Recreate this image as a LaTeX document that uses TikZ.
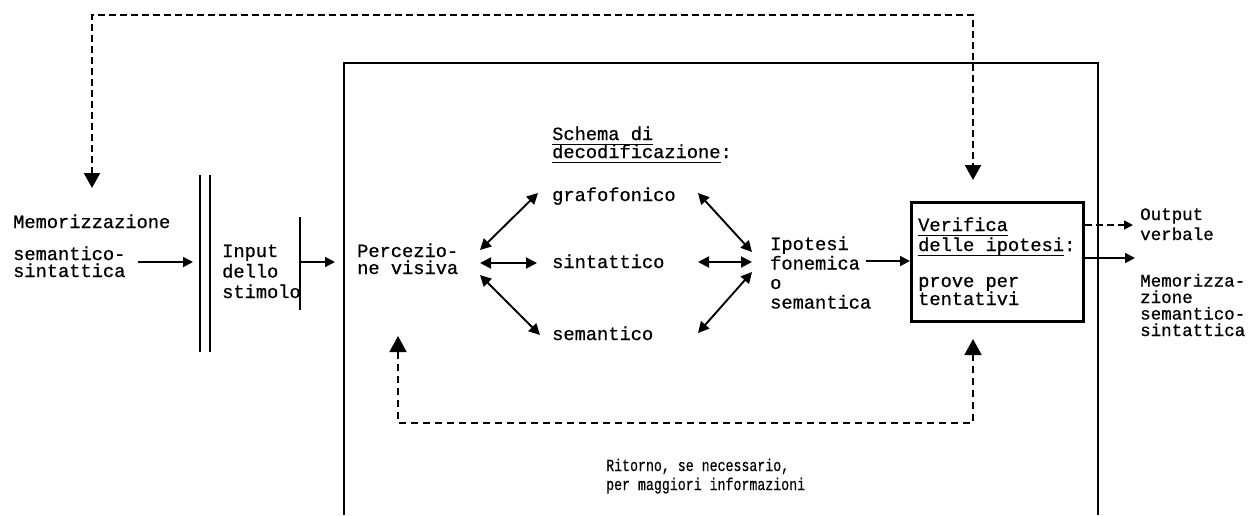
\documentclass[tikz,border=0pt]{standalone}
\usepackage{fontspec}
\newfontfamily\tw[FakeBold=0.7]{Liberation Mono}
\newfontfamily\twn[FakeStretch=0.78,FakeBold=0.4]{Liberation Mono}
\usetikzlibrary{arrows.meta}
\newsavebox\ulbox
\newcommand\myul[1]{\sbox\ulbox{#1}\rlap{\rule[-5pt]{\wd\ulbox}{1.3pt}}\usebox\ulbox}
\begin{document}
\begin{tikzpicture}[x=1pt,y=-1pt,
  txt/.style={inner sep=0pt, anchor=base west, align=left, font=\tw\fontsize{18.7}{20}\selectfont},
  frameline/.style={line width=2.4pt},
  sarrow/.style={line width=1.8pt,-{Triangle[length=10pt,width=10pt]}},
  darrowsmall/.style={line width=1.6pt,-{Triangle[length=9pt,width=9pt]}},
  biarrow/.style={line width=1.9pt,{Triangle[length=11pt,width=11pt]}-{Triangle[length=11pt,width=11pt]}},
  bigdash/.style={line width=2.2pt,dash pattern=on 7pt off 4pt,{Triangle[length=15pt,width=16pt]}-{Triangle[length=15pt,width=16pt]}},
  loopdash/.style={line width=1.6pt,dash pattern=on 7pt off 5pt}]
\useasboundingbox (0,0) rectangle (1258,515);
\fill[white] (0,0) rectangle (1258,515);

% left side
\node[txt] (memA) at (13,228) {Memorizzazione};
\node[txt,font=\tw\fontsize{18.7}{17}\selectfont] (memB) at (13,277) {semantico-\\sintattica};
\draw[line width=1.8pt] (200,175) coordinate (dblTop) -- (200,352);
\draw[line width=1.8pt] (210,175) -- (210,352) coordinate (dblBot);
\node[txt,font=\tw\fontsize{18.7}{20.5}\selectfont] (inp) at (222,298) {Input\\dello\\stimolo};
\draw[line width=1.8pt] (300,217) coordinate (inpTop) -- (300,310) coordinate (inpBot);
\coordinate (memOut) at (138,262);
\coordinate (dblIn) at (193,262);
\draw[sarrow] (memOut) -- (dblIn);
\coordinate (inpOut) at (300,262);
\coordinate (percIn) at (335,262);
\draw[sarrow] (inpOut) -- (percIn);

% frame
\draw[frameline] (344,515) -- (344,63) -- (1098,63) -- (1098,515);

% centre
\node[txt,font=\tw\fontsize{18.7}{17}\selectfont] (perc) at (357,274) {Percezio-\\ne visiva};
\node[txt] (schema) at (552,140) {\myul{Schema di}};
\node[txt] (decod) at (552,158) {\myul{decodificazione}:};
\node[txt] (grafo) at (552,201) {grafofonico};
\node[txt] (sint) at (552,268) {sintattico};
\node[txt] (sem) at (552,340) {semantico};

\coordinate (pG) at (480,250); \coordinate (gP) at (538,193);
\coordinate (pS) at (480,263); \coordinate (sP) at (537,263);
\coordinate (pM) at (480,275); \coordinate (mP) at (540,335);
\draw[biarrow] (pG) -- (gP);
\draw[biarrow] (pS) -- (sP);
\draw[biarrow] (pM) -- (mP);

\coordinate (gI) at (698,193); \coordinate (iG) at (752,252);
\coordinate (sI) at (698,262); \coordinate (iS) at (752,262);
\coordinate (mI) at (698,333); \coordinate (iM) at (752,272);
\draw[biarrow] (gI) -- (iG);
\draw[biarrow] (sI) -- (iS);
\draw[biarrow] (mI) -- (iM);

\node[txt,font=\tw\fontsize{18.7}{19.5}\selectfont] (ipo) at (770,308.5) {Ipotesi\\fonemica\\o\\semantica};

% verification box
\node[draw,line width=3.2pt,minimum width=172pt,minimum height=119pt,inner sep=0pt,anchor=north west] (box) at (910,201) {};
\node[txt] (ver1) at (918,231) {\myul{Verifica}};
\node[txt] (ver2) at (918,251) {\myul{delle ipotesi}:};
\node[txt,font=\tw\fontsize{18.7}{18}\selectfont] (ver3) at (918,305) {prove per\\tentativi};
\coordinate (ipoOut) at (866,261);
\draw[sarrow] (ipoOut) -- (box.west |- ipoOut);

% outputs
\node[txt,font=\tw\fontsize{17.5}{20}\selectfont] (outv) at (1140,240) {Output\\verbale};
\node[txt,font=\tw\fontsize{17.5}{16.5}\selectfont] (memR) at (1140,336) {Memorizza-\\zione\\semantico-\\sintattica};
\coordinate (outTip) at (1133,225);
\coordinate (memTip) at (1135,258);
\draw[darrowsmall,dash pattern=on 7pt off 4pt] (box.east |- outTip) -- (outTip);
\draw[sarrow] (box.east |- memTip) -- (memTip);

% top feedback loop
\coordinate (topL) at (92,15);
\coordinate (topR) at (973,15);
\coordinate (tipL) at (92,188);
\coordinate (tipR) at (973,180);
\draw[bigdash] (tipL) -- (topL) -- (topR) -- (tipR);

% bottom feedback loop
\coordinate (botL) at (398,423);
\coordinate (botR) at (973,423);
\coordinate (upL) at (398,336);
\coordinate (upR) at (973,339);
\draw[loopdash,{Triangle[length=16pt,width=17pt]}-{Triangle[length=16pt,width=17pt]}] (upL) -- (botL) -- (botR) -- (upR);

\node[inner sep=0pt,anchor=base west,align=left,font=\twn\fontsize{17}{19}\selectfont] (ritorno) at (606,490) {Ritorno, se necessario,\\per maggiori informazioni};
\end{tikzpicture}
\end{document}
